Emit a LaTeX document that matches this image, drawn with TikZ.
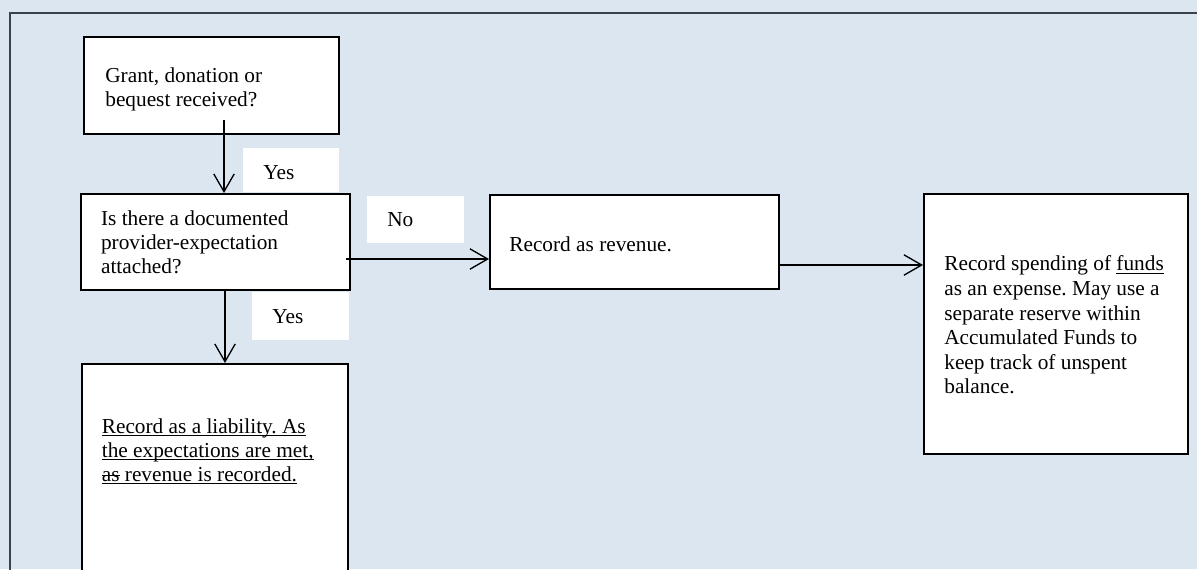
\documentclass[tikz,border=0pt]{standalone}
\usepackage{fontspec}
\setmainfont{Liberation Serif}
\usetikzlibrary{arrows.meta}
\frenchspacing

\definecolor{canvas}{HTML}{DCE6F1}
\definecolor{frameline}{HTML}{3C4248}

% one unit = one screen pixel of the layout
\newlength\px
\setlength\px{0.5634pt}

% underline / strike-through for a single run of text
\newcommand\ulined[1]{\setbox0\hbox{#1}\rlap{\rule[-1.7pt]{\wd0}{0.55pt}}\box0\relax}
\newcommand\struck[1]{\setbox0\hbox{#1}\rlap{\rule[3.0pt]{\wd0}{0.55pt}}\box0\relax}

\tikzset{
  box/.style={draw=black, fill=white, line width=0.85pt, anchor=north west,
    inner sep=0pt},
  txt/.style={anchor=north west, inner sep=0pt, align=left,
    font=\fontsize{12}{#1}\selectfont},
  txt/.default=13.55pt,
  tag/.style={fill=white, anchor=north west, inner xsep=20\px, inner ysep=0pt,
    align=left, font=\fontsize{12}{13.6}\selectfont},
  arr/.style={line width=0.75pt,
    -{Straight Barb[length=10pt, width=11.5pt]}},
}

\begin{document}
\begin{tikzpicture}[x=0.5634pt, y=-0.5634pt]
\useasboundingbox (0,0) rectangle (1197,569);
\clip (0,0) rectangle (1197,569);
\fill[canvas] (0,0) rectangle (1197,569);

% outer frame (open to the right and bottom)
\draw[frameline, line width=1pt] (10,620) -- (10,13) -- (1220,13);

% process boxes
\node[box, minimum width=255*\px, minimum height=97*\px]  (b1) at (83,36) {};
\node[box, minimum width=269*\px, minimum height=96*\px]  (b2) at (80,193) {};
\node[box, minimum width=289*\px, minimum height=94*\px]  (b3) at (489,194) {};
\node[box, minimum width=264*\px, minimum height=260*\px] (b4) at (923,193) {};
\node[box, minimum width=266*\px, minimum height=280*\px] (b5) at (81,363) {};

% box texts
\node[txt] (t1) at (105,67.5) {Grant, donation or\\bequest received?};
\node[txt] (t2) at (100.7,210.5) {Is there a documented\\provider-expectation\\attached?};
\node[txt] (t3) at (509,236) {Record as revenue.};
\node[txt=13.85pt] (t4) at (944,255.5) {Record spending of \ulined{funds}\\as an expense. May use a\\separate reserve within\\Accumulated Funds to\\keep track of unspent\\balance.};
\node[txt] (t5) at (101.5,418) {\ulined{Record as a liability. As}\\\ulined{the expectations are met,}\\\ulined{\struck{as} revenue is recorded.}};

% branch labels
\node[tag, minimum width=96*\px, minimum height=44*\px, text width=56*\px,
  text height=10.2pt, text depth=0pt] (yes1) at (243,148) {Yes};
\node[tag, minimum width=97*\px, minimum height=47*\px, text width=57*\px]
  (no) at (367,196) {No};
\node[tag, minimum width=97*\px, minimum height=48*\px, text width=57*\px]
  (yes2) at (252,292) {Yes};

% connectors
\coordinate (s1) at (224,120);
\coordinate (s2) at (225,289);
\coordinate (s3) at (346,259);
\coordinate (s4) at (778,265);
\draw[arr] (s1) -- (s1 |- b2.north);
\draw[arr] (s2) -- (s2 |- b5.north);
\draw[arr] (s3) -- (s3 -| b3.west);
\draw[arr] (s4) -- (s4 -| b4.west);
\end{tikzpicture}
\end{document}
